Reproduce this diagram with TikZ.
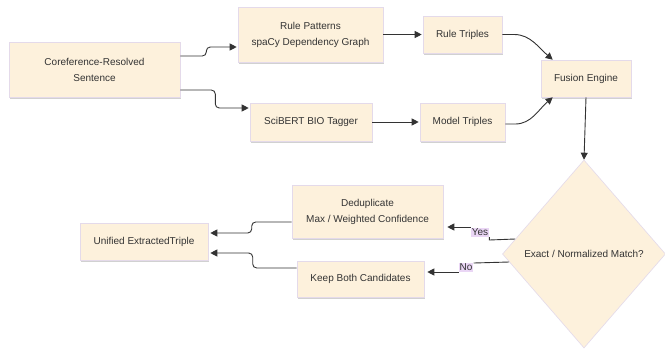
\documentclass[tikz,border=0pt]{standalone}
\usepackage{fontspec}
\setmainfont{Liberation Sans}
\usetikzlibrary{arrows.meta,shapes.geometric,shadows,calc}
\definecolor{boxfill}{HTML}{FDF1DC}
\definecolor{boxline}{HTML}{E4DAEA}
\definecolor{lblbg}{HTML}{EAD6F5}
\definecolor{ink}{HTML}{333333}
\tikzset{
  box/.style={draw=boxline, line width=0.6bp, fill=boxfill, align=center, inner sep=0,
    font=\fontsize{10bp}{16bp}\selectfont, text=ink,
    drop shadow={shadow xshift=1bp, shadow yshift=-2bp, opacity=0.18, fill=black}},
  dia/.style={draw=boxline, line width=0.6bp, fill=boxfill, shape=diamond, inner sep=0,
    font=\fontsize{10bp}{12bp}\selectfont, text=ink},
  arr/.style={draw=ink, line width=0.9bp, -{Triangle[width=7bp,length=7bp]}},
  seg/.style={draw=ink, line width=0.9bp},
  lbl/.style={fill=lblbg, inner sep=1bp, font=\fontsize{10bp}{11bp}\selectfont, text=ink}
}
\begin{document}
\begin{tikzpicture}[x=1bp,y=-1bp]
\useasboundingbox[fill=white] (0,0) rectangle (665,354);
\node[box, minimum width=171bp, minimum height=55bp] (coref) at (94.5,69.5) {Coreference-Resolved\\Sentence};
\node[box, minimum width=145bp, minimum height=55bp] (rule) at (310.5,34.5) {Rule Patterns\\spaCy Dependency Graph};
\node[box, minimum width=122bp, minimum height=38bp] (sci) at (311,122) {SciBERT BIO Tagger};
\node[box, minimum width=79bp, minimum height=37bp] (rtrip) at (462.5,34.5) {Rule Triples};
\node[box, minimum width=85bp, minimum height=38bp] (mtrip) at (462.5,122) {Model Triples};
\node[box, minimum width=90bp, minimum height=37bp] (fusion) at (586,78.5) {Fusion Engine};
\node[dia, minimum width=163bp, minimum height=188bp] (dec) at (584,254) {Exact / Normalized Match?};
\node[box, minimum width=151bp, minimum height=53bp] (dedup) at (367.5,211.5) {Deduplicate\\Max / Weighted Confidence};
\node[box, minimum width=127bp, minimum height=36bp] (keep) at (360.5,279) {Keep Both Candidates};
\node[box, minimum width=128bp, minimum height=37bp] (unif) at (144,241.5) {Unified ExtractedTriple};

% top-left fan-out
\draw[arr, rounded corners=4bp] ($(coref.east)+(0,-13.5)$) -- ++(26,0) -- ++(0,-9) -- ($(rule.west)+(-1,12.5)$);
\draw[arr, rounded corners=4bp] ($(coref.east)+(0,20.5)$) -- ++(35,0) -- ++(0,18) -- ($(sci.west)+(-1,-14)$);
\draw[arr] (rule.east) -- ($(rtrip.west)+(-1,0)$);
\draw[arr] (sci.east) -- ($(mtrip.west)+(-1,0)$);
\draw[arr] (rtrip.east) -- ++(12,0) .. controls +(16,0) and +(-14,-12) .. ($(fusion.north west)+(12,0)$);
\draw[arr] ($(mtrip.east)+(0,2)$) -- ++(10,0) .. controls +(16,0) and +(-14,12) .. ($(fusion.south west)+(12,0)$);
\draw[arr] (fusion.south) -- (dec.north);

% decision branches
\node[lbl] (yes) at (480,232.5) {Yes};
\node[lbl] (no) at (466,267.5) {No};
\draw[seg] ($(dec.west)+(13,-15)$) -- (yes.south east |- 0,240) -- (yes.south east);
\draw[arr] (yes.north west) |- ($(dedup.east)+(4,15.5)$);
\draw[seg] ($(dec.west)+(7,8)$) -- (no.north east |- 0,263);
\draw[arr] (no.south west) |- ($(keep.east)+(3,-7)$);

% merge into unified
\draw[arr, rounded corners=4bp] ($(dedup.west)+(0,10.5)$) -- ++(-40,0) -- ++(0,11) -- ($(unif.east)+(2,-8.5)$);
\draw[arr, rounded corners=4bp] ($(keep.west)+(0,-11)$) -- ++(-44,0) -- ++(0,-15) -- ($(unif.east)+(2,11.5)$);
\end{tikzpicture}
\end{document}
